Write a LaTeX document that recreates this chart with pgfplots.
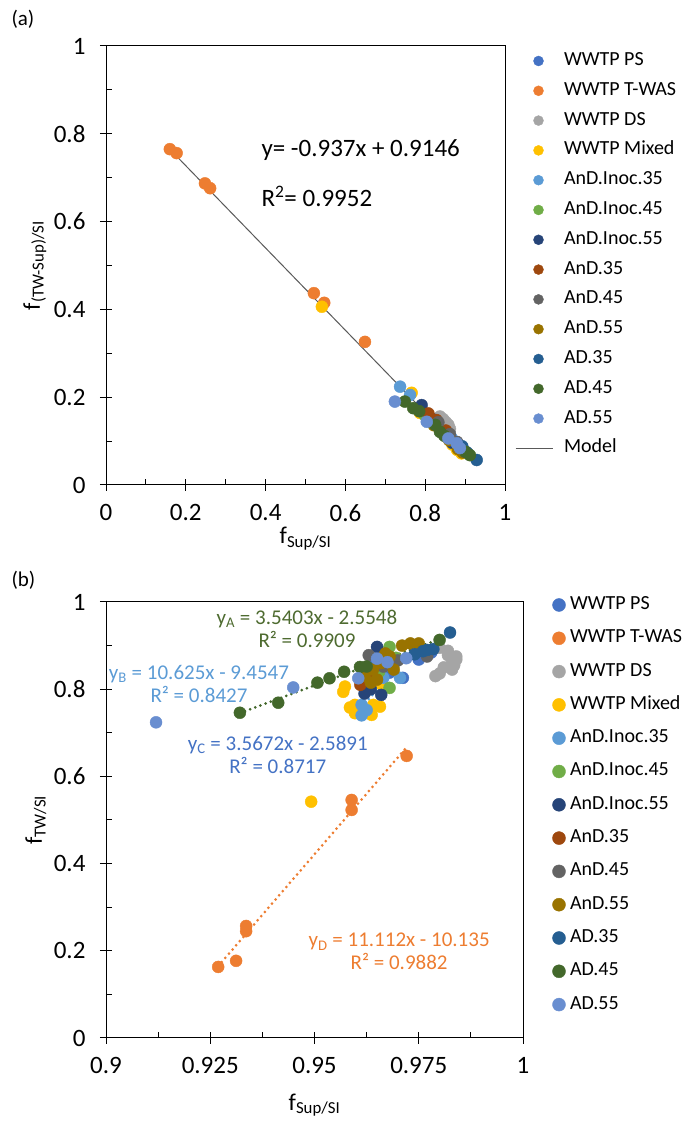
\documentclass[border=0pt]{standalone}
\usepackage{pgfplots}
\pgfplotsset{compat=1.18}
\usepackage{fontspec}
\setmainfont{Carlito}
\definecolor{cPS}{HTML}{4472C4}
\definecolor{cTWAS}{HTML}{ED7D31}
\definecolor{cDS}{HTML}{A5A5A5}
\definecolor{cMix}{HTML}{FFC000}
\definecolor{cIA}{HTML}{5B9BD5}
\definecolor{cIB}{HTML}{70AD47}
\definecolor{cIC}{HTML}{264478}
\definecolor{cAA}{HTML}{9E480E}
\definecolor{cAB}{HTML}{636363}
\definecolor{cAC}{HTML}{997300}
\definecolor{cDA}{HTML}{255E91}
\definecolor{cDB}{HTML}{43682B}
\definecolor{cDC}{HTML}{698ED0}
\definecolor{tA}{HTML}{4E6B30}
\definecolor{modelgray}{HTML}{595959}
\pgfplotsset{
  base/.style={scale only axis, anchor=south west,
    axis line style={line width=1pt, black},
    every tick/.style={line width=1pt, black},
    major tick length=12pt, minor tick length=6pt, tick align=center,
    every minor x tick/.append style={yshift=3pt},
    every minor y tick/.append style={xshift=3pt},
    xtick pos=left, ytick pos=left, minor tick num=1,
    /pgf/number format/assume math mode=true,
    tick label style={font=\fontsize{25}{29}\selectfont},
    xticklabel style={yshift=-10pt},
    yticklabel style={xshift=-11pt},
    label style={font=\fontsize{24}{28}\selectfont},
    legend cell align=left,
  },
  s/.style={only marks, mark=*, mark size=6pt, color=#1, mark options={draw=#1, fill=#1}},
  tl/.style={color=#1, line width=3pt, line cap=round, dash pattern=on 0pt off 5.5pt, forget plot},
  legA/.style={legend image code/.code={\path (-23pt,0pt) (14pt,0pt); \draw[##1, mark size=5pt] plot coordinates {(0pt,0pt)};}},
  legB/.style={legend image code/.code={\draw[##1, mark size=6.5pt] plot coordinates {(0pt,0pt)};}},
  legM/.style={legend image code/.code={\draw[##1] (-23pt,0pt) -- (14pt,0pt);}},
}
\begin{document}
\begin{tikzpicture}
\useasboundingbox (0pt,0pt) rectangle (681pt,1126pt);
\node[anchor=west, font=\fontsize{21}{25}\selectfont] at (8pt,1107pt) {(a)};
\node[anchor=west, font=\fontsize{21}{25}\selectfont] at (8pt,546pt) {(b)};
% ---------------- panel (a)
\begin{axis}[base, at={(106pt,641pt)}, width=399pt, height=439pt,
  xmin=0, xmax=1, ymin=0, ymax=1,
  xtick={0,0.2,0.4,0.6,0.8,1}, ytick={0,0.2,0.4,0.6,0.8,1},
  xlabel={f\textsubscript{Sup/SI}}, ylabel={f\textsubscript{(TW-Sup)/SI}},
  xlabel style={at={(axis description cs:0.5,0)}, anchor=center, yshift=-54pt},
  ylabel style={at={(axis description cs:-0.178,0.5)}, anchor=center},
  legend style={at={(1,1)}, anchor=north west, xshift=10pt, yshift=-6.5pt,
    draw=none, fill=none, inner sep=0pt, outer sep=0pt, row sep=12.8pt, column sep=11pt,
    font=\fontsize{20}{23}\selectfont, nodes={inner sep=0pt, text height=13pt, text depth=4pt}},
  legA,
]
\addplot[s=cPS] coordinates {(0.852,0.118) (0.868,0.104) (0.877,0.096) (0.884,0.090) (0.873,0.099)};
\addlegendentry{WWTP PS}
\addplot[s=cTWAS] coordinates {(0.160,0.765) (0.177,0.756) (0.248,0.687) (0.261,0.676) (0.521,0.437) (0.547,0.415) (0.649,0.326)};
\addlegendentry{WWTP T-WAS}
\addplot[s=cDS] coordinates {(0.837,0.156) (0.845,0.150) (0.852,0.143) (0.858,0.137) (0.850,0.130) (0.862,0.128) (0.842,0.140)};
\addlegendentry{WWTP DS}
\addplot[s=cMix] coordinates {(0.541,0.406) (0.766,0.210) (0.787,0.164) (0.868,0.092) (0.891,0.072) (0.880,0.080)};
\addlegendentry{WWTP Mixed}
\addplot[s=cIA] coordinates {(0.737,0.224) (0.762,0.205) (0.846,0.118) (0.865,0.108)};
\addlegendentry{AnD.Inoc.35}
\addplot[s=cIB] coordinates {(0.800,0.158) (0.855,0.112) (0.875,0.097)};
\addlegendentry{AnD.Inoc.45}
\addplot[s=cIC] coordinates {(0.791,0.182) (0.818,0.150) (0.868,0.096) (0.888,0.082)};
\addlegendentry{AnD.Inoc.55}
\addplot[s=cAA] coordinates {(0.808,0.163) (0.828,0.148) (0.852,0.124)};
\addlegendentry{AnD.35}
\addplot[s=cAB] coordinates {(0.833,0.143) (0.862,0.116) (0.880,0.098)};
\addlegendentry{AnD.45}
\addplot[s=cAC] coordinates {(0.822,0.136) (0.860,0.102) (0.894,0.074) (0.882,0.082)};
\addlegendentry{AnD.55}
\addplot[s=cDA] coordinates {(0.929,0.057) (0.905,0.074) (0.893,0.088)};
\addlegendentry{AD.35}
\addplot[s=cDB] coordinates {(0.749,0.190) (0.770,0.175) (0.785,0.168) (0.825,0.137) (0.837,0.121) (0.848,0.112) (0.912,0.068) (0.900,0.076)};
\addlegendentry{AD.45}
\addplot[s=cDC] coordinates {(0.724,0.190) (0.804,0.144) (0.858,0.106) (0.879,0.095) (0.887,0.084)};
\addlegendentry{AD.55}
\addplot[color=modelgray, line width=1pt, no marks, legM] coordinates {(0.16,0.7647) (0.93,0.0432)};
\addlegendentry{Model}
\node[anchor=west, font=\fontsize{25}{29}\selectfont] at (axis cs:0.381,0.763) {y= -0.937x + 0.9146};
\node[anchor=west, font=\fontsize{25}{29}\selectfont] at (axis cs:0.381,0.658) {R\textsuperscript{2}= 0.9952};
\end{axis}
% ---------------- panel (b)
\begin{axis}[base, at={(106pt,88pt)}, width=417pt, height=436pt,
  xmin=0.9, xmax=1, ymin=0, ymax=1,
  xtick={0.9,0.925,0.95,0.975,1}, xticklabels={0.9,0.925,0.95,0.975,1},
  ytick={0,0.2,0.4,0.6,0.8,1},
  xlabel={f\textsubscript{Sup/SI}}, ylabel={f\textsubscript{TW/SI}},
  xlabel style={at={(axis description cs:0.5,0)}, anchor=center, yshift=-67pt},
  ylabel style={at={(axis description cs:-0.168,0.5)}, anchor=center},
  legend style={at={(1,1)}, anchor=north west, xshift=29.5pt, yshift=5.5pt,
    draw=none, fill=none, inner sep=0pt, outer sep=0pt, row sep=16.3pt, column sep=4.5pt,
    font=\fontsize{20}{23}\selectfont, nodes={inner sep=0pt, text height=13pt, text depth=4pt}},
  legB,
]
\addplot[s=cPS] coordinates {(0.9712,0.826) (0.9680,0.838) (0.9750,0.868) (0.9780,0.884) (0.9645,0.862)};
\addlegendentry{WWTP PS}
\addplot[s=cTWAS] coordinates {(0.9269,0.163) (0.9312,0.177) (0.9336,0.257) (0.9336,0.245) (0.9589,0.546) (0.9589,0.523) (0.9721,0.647)};
\addlegendentry{WWTP T-WAS}
\addplot[s=cDS] coordinates {(0.9800,0.895) (0.9820,0.888) (0.9840,0.875) (0.9830,0.862) (0.9810,0.850) (0.9830,0.845) (0.9800,0.836) (0.9790,0.830) (0.9840,0.868) (0.9820,0.878) (0.9835,0.855)};
\addlegendentry{WWTP DS}
\addplot[s=cMix] coordinates {(0.9492,0.542) (0.9573,0.806) (0.9569,0.794) (0.9597,0.764) (0.9597,0.745) (0.9641,0.764) (0.9657,0.760) (0.9637,0.741) (0.9660,0.811) (0.9585,0.758)};
\addlegendentry{WWTP Mixed}
\addplot[s=cIA] coordinates {(0.9613,0.764) (0.9613,0.740) (0.9665,0.826) (0.9705,0.826) (0.9680,0.870) (0.9625,0.752)};
\addlegendentry{AnD.Inoc.35}
\addplot[s=cIB] coordinates {(0.9680,0.897) (0.9680,0.803) (0.9655,0.840) (0.9695,0.872)};
\addlegendentry{AnD.Inoc.45}
\addplot[s=cIC] coordinates {(0.9650,0.897) (0.9620,0.790) (0.9660,0.787) (0.9635,0.800)};
\addlegendentry{AnD.Inoc.55}
\addplot[s=cAA] coordinates {(0.9610,0.810) (0.9615,0.822) (0.9630,0.832)};
\addlegendentry{AnD.35}
\addplot[s=cAB] coordinates {(0.9630,0.878) (0.9770,0.875) (0.9665,0.852) (0.9700,0.866)};
\addlegendentry{AnD.45}
\addplot[s=cAC] coordinates {(0.9620,0.830) (0.9640,0.845) (0.9660,0.860) (0.9680,0.875) (0.9635,0.815) (0.9670,0.882) (0.9710,0.900) (0.9730,0.905) (0.9750,0.905) (0.9650,0.822) (0.9690,0.845)};
\addlegendentry{AnD.55}
\addplot[s=cDA] coordinates {(0.9825,0.930) (0.9760,0.887) (0.9770,0.890) (0.9785,0.892) (0.9740,0.880)};
\addlegendentry{AD.35}
\addplot[s=cDB] coordinates {(0.9321,0.746) (0.9413,0.769) (0.9507,0.815) (0.9536,0.825) (0.9571,0.840) (0.9609,0.851) (0.9625,0.852) (0.9800,0.913)};
\addlegendentry{AD.45}
\addplot[s=cDC] coordinates {(0.9120,0.724) (0.9449,0.804) (0.9720,0.871) (0.9650,0.870) (0.9605,0.825) (0.9675,0.862)};
\addlegendentry{AD.55}
\addplot[tl=cDB] coordinates {(0.9321,0.7451) (0.9800,0.9147)};
\addplot[tl=cIA] coordinates {(0.9630,0.7772) (0.9720,0.8728)};
\addplot[tl=cPS] coordinates {(0.9645,0.8515) (0.9780,0.8996)};
\addplot[tl=cTWAS] coordinates {(0.9269,0.1647) (0.9721,0.6670)};
\node[align=center, text=tA, font=\fontsize{21}{23}\selectfont] at (axis cs:0.9482,0.939) {y\textsubscript{A} = 3.5403x - 2.5548\\R² = 0.9909};
\node[align=center, text=cIA, font=\fontsize{21}{23}\selectfont] at (axis cs:0.9223,0.813) {y\textsubscript{B} = 10.625x - 9.4547\\R² = 0.8427};
\node[align=center, text=cPS, font=\fontsize{21}{23}\selectfont] at (axis cs:0.9412,0.650) {y\textsubscript{C} = 3.5672x - 2.5891\\R² = 0.8717};
\node[align=center, text=cTWAS, font=\fontsize{21}{23}\selectfont] at (axis cs:0.9703,0.198) {y\textsubscript{D} = 11.112x - 10.135\\R² = 0.9882};
\end{axis}
\end{tikzpicture}
\end{document}
